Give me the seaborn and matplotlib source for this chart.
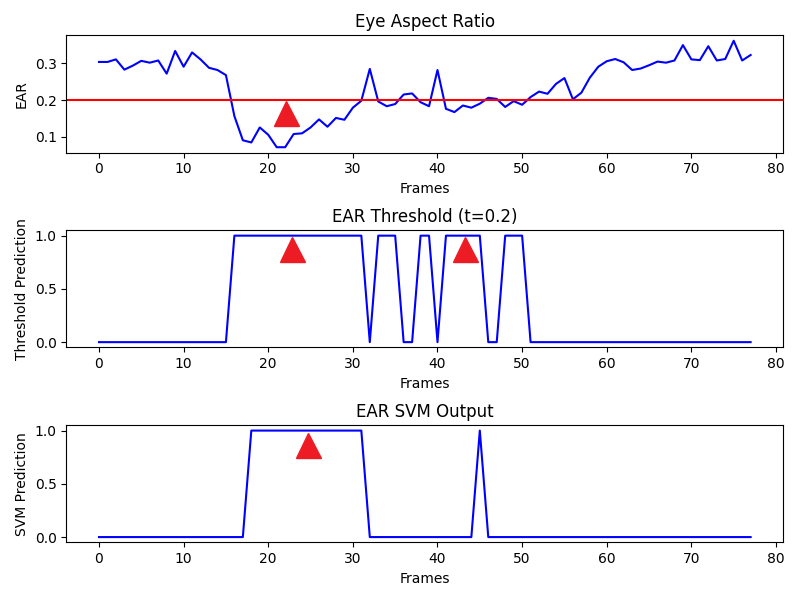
import numpy as np
import pandas as pd
import matplotlib
matplotlib.use("Agg")
import matplotlib.pyplot as plt
import seaborn as sns

frames = list(range(78))
ear = [0.304, 0.304, 0.311, 0.283, 0.294, 0.307, 0.302, 0.308, 0.272, 0.334,
       0.291, 0.330, 0.311, 0.288, 0.282, 0.268, 0.156, 0.090, 0.084, 0.125,
       0.105, 0.071, 0.071, 0.107, 0.109, 0.125, 0.147, 0.127, 0.151, 0.146,
       0.179, 0.198, 0.285, 0.196, 0.183, 0.189, 0.215, 0.218, 0.194, 0.183,
       0.282, 0.176, 0.167, 0.185, 0.179, 0.190, 0.206, 0.203, 0.181, 0.197,
       0.187, 0.208, 0.223, 0.217, 0.244, 0.260, 0.202, 0.220, 0.261, 0.291,
       0.306, 0.312, 0.303, 0.282, 0.286, 0.295, 0.305, 0.302, 0.308, 0.350,
       0.311, 0.309, 0.347, 0.308, 0.312, 0.362, 0.308, 0.323]
threshold_pred = [0]*16 + [1]*16 + [0] + [1]*3 + [0]*2 + [1]*2 + [0] + [1]*5 + [0]*2 + [1]*3 + [0]*27
svm_pred = [0]*18 + [1]*14 + [0]*13 + [1] + [0]*32
threshold = 0.2

marker_top_x = [22.1]
marker_top_y = [0.165]
marker_mid_x = [22.8, 43.2]
marker_mid_y = [0.87, 0.87]
marker_bot_x = [24.7]
marker_bot_y = [0.86]

df = pd.DataFrame({"Frames": frames, "EAR": ear,
                   "Threshold Prediction": threshold_pred,
                   "SVM Prediction": svm_pred})

fig, axes = plt.subplots(3, 1, figsize=(8, 6), dpi=100)
tri_color = "#ED1C24"

ax = axes[0]
sns.lineplot(data=df, x="Frames", y="EAR", ax=ax, color="blue", linewidth=1.5)
ax.axhline(threshold, color="red", linewidth=1.5)
ax.plot(marker_top_x, marker_top_y, "^", color=tri_color, markersize=18)
ax.set_title("Eye Aspect Ratio")
ax.set_yticks([0.1, 0.2, 0.3])

ax = axes[1]
sns.lineplot(data=df, x="Frames", y="Threshold Prediction", ax=ax, color="blue", linewidth=1.5)
ax.plot(marker_mid_x, marker_mid_y, "^", color=tri_color, markersize=18, linestyle="none")
ax.set_title("EAR Threshold (t=0.2)")
ax.set_yticks([0.0, 0.5, 1.0])

ax = axes[2]
sns.lineplot(data=df, x="Frames", y="SVM Prediction", ax=ax, color="blue", linewidth=1.5)
ax.plot(marker_bot_x, marker_bot_y, "^", color=tri_color, markersize=18)
ax.set_title("EAR SVM Output")
ax.set_yticks([0.0, 0.5, 1.0])

for ax in axes:
    ax.set_xlabel("Frames")
    ax.set_xticks([0, 10, 20, 30, 40, 50, 60, 70, 80])

fig.subplots_adjust(left=0.083, right=0.979, top=0.941, bottom=0.096, hspace=0.664)
fig.savefig("out.png", dpi=100)
